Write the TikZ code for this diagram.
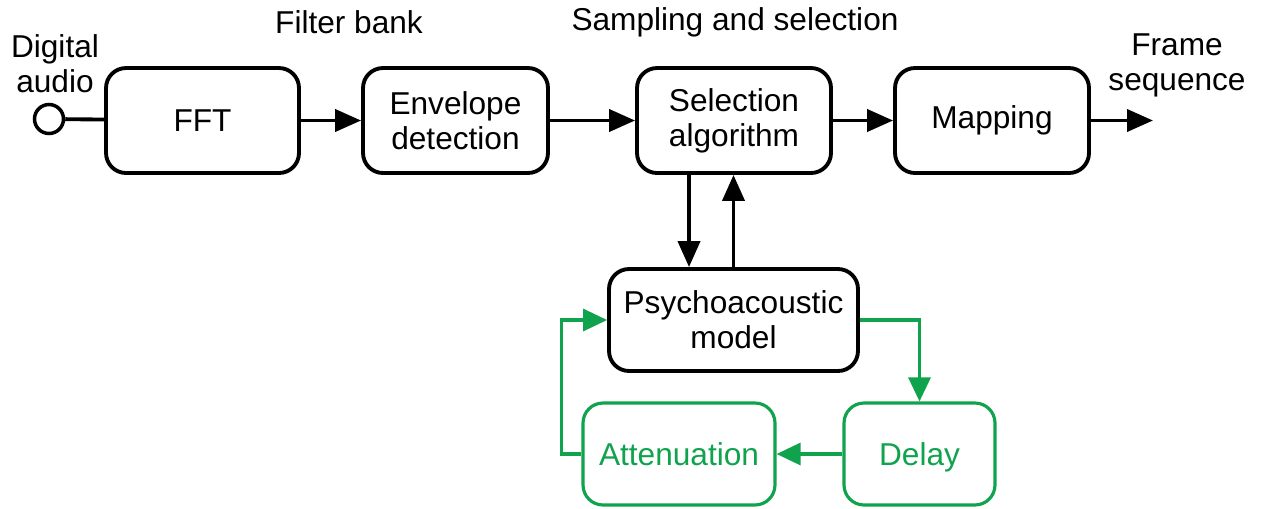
\documentclass[tikz,border=0pt]{standalone}
\usepackage{fontspec}
\setmainfont{Liberation Sans}
\usetikzlibrary{arrows.meta}
\definecolor{grn}{RGB}{16,163,77}
\tikzset{
  box/.style={draw, line width=2.2pt, rounded corners=0.4cm, align=center, inner sep=2pt,
    minimum height=2.1cm, font=\fontsize{18}{20}\selectfont},
  gbox/.style={box, draw=grn, text=grn, line width=1.8pt, minimum height=2.04cm,
    text depth=0pt},
  lbl/.style={align=center, inner sep=0pt, font=\fontsize{18}{20}\selectfont},
  arr/.style={line width=2.2pt, -{Triangle[length=0.52cm,width=0.44cm]}},
  garr/.style={line width=1.8pt, draw=grn, -{Triangle[length=0.48cm,width=0.44cm,fill=grn]}},
}
\begin{document}
\begin{tikzpicture}[x=0.02cm,y=-0.02cm]
\useasboundingbox (0,0) rectangle (1263,508);
\node[draw, circle, line width=2pt, minimum size=0.58cm, inner sep=0pt] (in) at (49,119) {};
\node[box, minimum width=3.86cm] (fft) at (202.5,120.5) {FFT};
\node[box, minimum width=3.7cm] (env) at (455.5,120.5) {Envelope\\detection};
\node[box, minimum width=3.88cm] (sel) at (734,120.5) {Selection\\algorithm};
\node[box, minimum width=3.88cm] (map) at (992,120.5) {Mapping};
\node[box, minimum width=4.98cm, minimum height=2.04cm] (psy) at (733.5,320) {Psychoacoustic\\model};
\node[gbox, minimum width=3.84cm] (att) at (679,454) {Attenuation};
\node[gbox, minimum width=3.02cm] (del) at (919.5,454) {Delay};
\coordinate (out) at (1153,120.5);
\node[lbl] (din) at (55,64) {Digital\\audio};
\node[lbl] (fseq) at (1177,65) {Frame\\sequence};
\node[lbl] (fb) at (349,22) {Filter bank};
\node[lbl] (ss) at (735,22) {Sampling and selection};
\draw[line width=2.2pt] (in) -- (fft);
\draw[arr] (fft) -- (env);
\draw[arr] (env) -- (sel);
\draw[arr] (sel) -- (map);
\draw[arr] (map) -- (out);
\draw[arr] ([xshift=-0.9cm]sel.south) -- ([xshift=-0.9cm]sel.south |- psy.north);
\draw[arr] (psy.north) -- (psy.north |- sel.south);
\draw[garr] (psy.east) -| (del.north);
\draw[garr] (del.west) -- (att.east);
\draw[garr] (att.west) -- ++(-20,0) |- (psy.west);
\end{tikzpicture}
\end{document}
